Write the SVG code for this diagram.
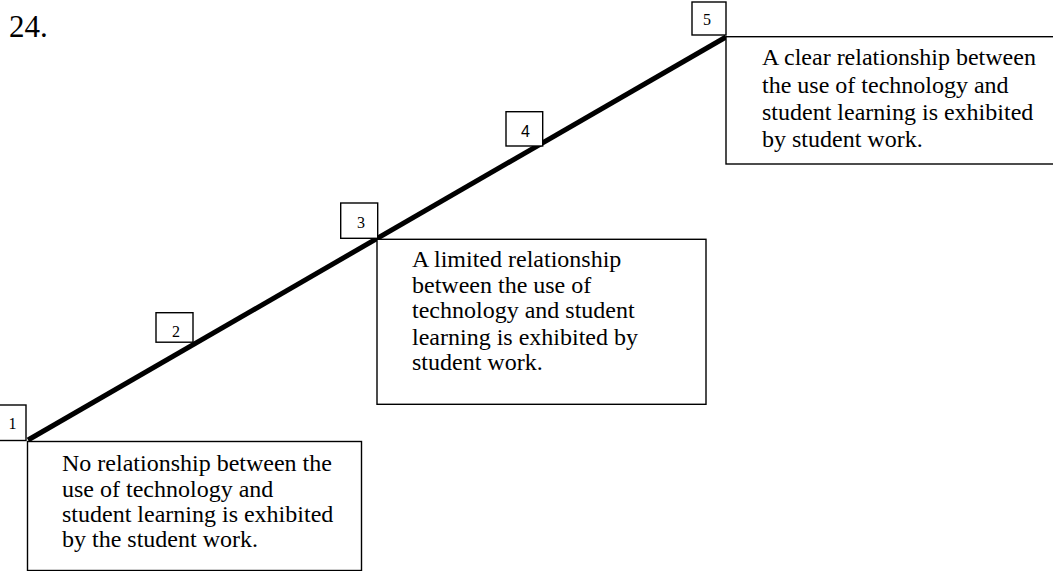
<svg xmlns="http://www.w3.org/2000/svg" width="1053" height="571" viewBox="0 0 1053 571">
  <style>
    .box { fill: #fff; stroke: #000; stroke-width: 1.4; }
    .txt { font-family: "Liberation Serif", "Times New Roman", serif; font-size: 24px; fill: #000; }
    .num { font-family: "Liberation Serif", "Times New Roman", serif; font-size: 16px; fill: #000; }
    .nums { font-family: "Liberation Sans", Arial, sans-serif; font-size: 16px; fill: #000; }
  </style>
  <rect width="1053" height="571" fill="#fff"/>

  <text x="9" y="37" style="font-family:'Liberation Serif','Times New Roman',serif;font-size:31px;fill:#000">24.</text>

  <!-- rising scale line -->
  <g id="connectors">
    <line x1="28" y1="440" x2="726" y2="37" stroke="#000" stroke-width="5"/>
  </g>

  <g id="step1">
    <rect class="box" x="-2" y="405" width="28" height="35.5"/>
    <text class="num" x="8.5" y="429">1</text>
    <rect class="box" x="27.5" y="441.5" width="334" height="129"/>
    <text class="txt" x="62" y="471">No relationship between the</text>
    <text class="txt" x="62" y="496.5">use of technology and</text>
    <text class="txt" x="62" y="522">student learning is exhibited</text>
    <text class="txt" x="62" y="547">by the student work.</text>
  </g>

  <g id="step2">
    <rect class="box" x="156" y="312.7" width="37" height="29.5"/>
    <text class="num" x="172" y="337">2</text>
  </g>

  <g id="step3">
    <rect class="box" x="340.7" y="203" width="37" height="35.3"/>
    <text class="num" x="357" y="228">3</text>
    <rect class="box" x="377" y="239.3" width="329" height="165"/>
    <text class="txt" x="412" y="266.7">A limited relationship</text>
    <text class="txt" x="412" y="292.5">between the use of</text>
    <text class="txt" x="412" y="318.3">technology and student</text>
    <text class="txt" x="412" y="344.5">learning is exhibited by</text>
    <text class="txt" x="412" y="370">student work.</text>
  </g>

  <g id="step4">
    <rect class="box" x="506" y="111.7" width="36.7" height="34.3"/>
    <text class="nums" x="521" y="136.5">4</text>
  </g>

  <g id="step5">
    <rect class="box" x="692" y="2" width="34" height="33"/>
    <text class="num" x="703" y="25">5</text>
    <rect class="box" x="726" y="36.7" width="340" height="127.3"/>
    <text class="txt" x="762" y="65">A clear relationship between</text>
    <text class="txt" x="762" y="92.7">the use of technology and</text>
    <text class="txt" x="762" y="120">student learning is exhibited</text>
    <text class="txt" x="762" y="147.3">by student work.</text>
  </g>
</svg>
